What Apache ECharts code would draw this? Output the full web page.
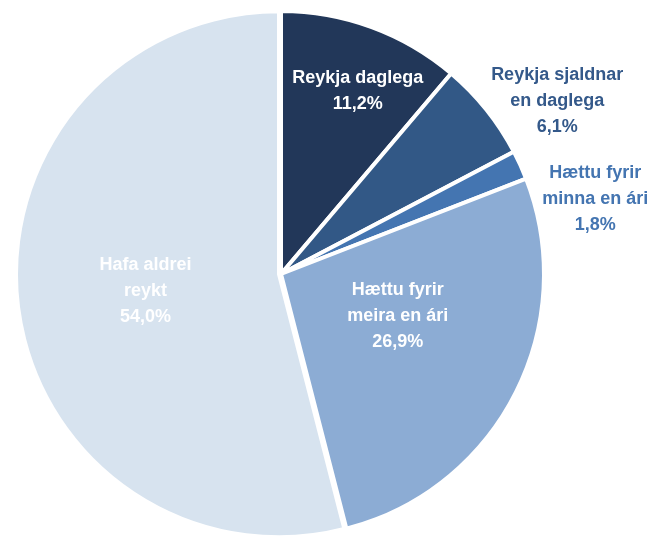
<!DOCTYPE html>
<html>
<head>
<meta charset="utf-8">
<script src="https://cdn.jsdelivr.net/npm/echarts@6/dist/echarts.min.js"></script>
<style>
  html, body { margin: 0; padding: 0; background: #fff; }
  #main { width: 667px; height: 536px; }
</style>
</head>
<body>
<div id="main"></div>
<script>
// flokkar og hlutföll (%)
var names = ['Reykja daglega', 'Reykja sjaldnar\nen daglega', 'Hættu fyrir\nminna en ári', 'Hættu fyrir\nmeira en ári', 'Hafa aldrei\nreykt'];
var values = [11.2, 6.1, 1.8, 26.9, 54.0];

var sliceColors = ['#223759', '#325886', '#4475b1', '#8cacd4', '#d7e3ef'];
var labelColors = ['#ffffff', '#34598a', '#4475b1', '#ffffff', '#ffffff'];
// label anchor: [angle in degrees, distance from centre in px]
var labelAt = [[67.2, 198], [32.1, 326], [13.4, 323], [-19.7, 124], [-171, 135]];

var cx = 281, cy = 274, radius = 263;

var myChart = echarts.init(document.getElementById('main'));

var data = [];
for (var i = 0; i < names.length; i++) {
    data.push({
        name: names[i],
        value: values[i],
        selected: i == 4,   // stóra sneiðin er dregin aðeins út
        itemStyle: { color: sliceColors[i] },
        label: { color: labelColors[i] }
    });
}

var option = {
    animation: false,
    series: [{
        type: 'pie',
        center: [cx, cy],
        radius: radius,
        startAngle: 90,
        clockwise: true,
        avoidLabelOverlap: false,
        selectedMode: 'single',
        selectedOffset: 2,
        silent: true,
        itemStyle: { borderColor: '#ffffff', borderWidth: 4 },
        label: {
            show: true,
            position: 'inside',
            fontFamily: '"Liberation Sans Narrow", "Arial Narrow", "Liberation Sans", Arial, sans-serif',
            fontWeight: 'bold',
            fontSize: 18,
            lineHeight: 26,
            align: 'center',
            formatter: function (p) {
                return p.name + '\n' + p.value.toFixed(1).replace('.', ',') + '%';
            }
        },
        labelLine: { show: false },
        labelLayout: function (params) {
            var a = labelAt[params.dataIndex];
            var rad = a[0] * Math.PI / 180;
            return {
                x: cx + a[1] * Math.cos(rad),
                y: cy - a[1] * Math.sin(rad),
                align: 'center',
                verticalAlign: 'middle'
            };
        },
        data: data
    }]
};

myChart.setOption(option);
</script>
</body>
</html>
